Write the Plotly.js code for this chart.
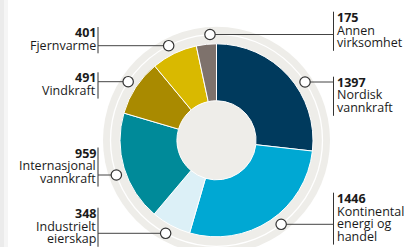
<!DOCTYPE html>
<html>
<head>
<meta charset="utf-8">
<script src="https://cdn.plot.ly/plotly-3.0.1.min.js"></script>
<style>html,body{margin:0;padding:0;background:#fff;}#chart{width:409px;height:247px;}</style>
</head>
<body>
<div id="chart"></div>
<script>
// ---- data ----
const categories = ["Nordisk vannkraft", "Kontinental energi og handel", "Industrielt eierskap", "Internasjonal vannkraft", "Vindkraft", "Fjernvarme", "Annen virksomhet"];
const values = [1397, 1446, 348, 959, 491, 401, 175];
const labelLines = [["Nordisk", "vannkraft"], ["Kontinental", "energi og", "handel"], ["Industrielt", "eierskap"], ["Internasjonal", "vannkraft"], ["Vindkraft"], ["Fjernvarme"], ["Annen", "virksomhet"]];
const colors = ["#003a5d", "#00a8d3", "#dcf0f7", "#008a99", "#a98a00", "#d9b900", "#7e726c"];

// ---- layout (pixel positions) ----
const W = 409, H = 247;
const cx = 216.5, cy = 140.3, R = 96.5;      // pie
const ringR = 113.5, markR = 106, holeFrac = 0.41;
const labelPos = [ // label side, first baseline y, leader-line y
  {side: 'R', b0: 86.7, ly: 82.0},
  {side: 'R', b0: 202.7, ly: 224.3},
  {side: 'L', b0: 217.7, ly: 233.3},
  {side: 'L', b0: 157.5, ly: 175.0},
  {side: 'L', b0: 82.3, ly: 81.7},
  {side: 'L', b0: 37.0, ly: 45.7},
  {side: 'R', b0: 21.7, ly: 34.5}
];
const lineGap = 12.8;
const leftBarX = 98, rightBarX = 333.5;
const X = p => p / W, Y = p => 1 - p / H;

const total = values.reduce((a, b) => a + b, 0);
const shapes = [];
const annotations = [];

// background strip on left edge
shapes.push({type: 'rect', xref: 'paper', yref: 'paper', x0: 0, x1: X(4), y0: 0, y1: 1, fillcolor: '#ebebeb', line: {width: 0}, layer: 'below'});
shapes.push({type: 'rect', xref: 'paper', yref: 'paper', x0: X(4), x1: X(8), y0: 0, y1: 1, fillcolor: '#f5f5f5', line: {width: 0}, layer: 'below'});
// grey ring disc
shapes.push({type: 'circle', xref: 'paper', yref: 'paper', x0: X(cx - ringR), x1: X(cx + ringR), y0: Y(cy + ringR), y1: Y(cy - ringR), fillcolor: '#eeede9', line: {width: 0}, layer: 'below'});
// thin white ring
shapes.push({type: 'circle', xref: 'paper', yref: 'paper', x0: X(cx - markR), x1: X(cx + markR), y0: Y(cy + markR), y1: Y(cy - markR), fillcolor: 'rgba(0,0,0,0)', line: {width: 1.3, color: '#ffffff'}, layer: 'below'});

let cum = 0;
values.forEach((v, i) => {
  const mid = (cum + v / 2) / total * 2 * Math.PI;
  cum += v;
  const markerRight = Math.sin(mid) > 0;
  const pos = labelPos[i];
  const right = pos.side === 'R';
  const dy = pos.ly - cy;
  const mx = cx + (markerRight ? 1 : -1) * Math.sqrt(markR * markR - dy * dy);
  const barX = right ? rightBarX : leftBarX;
  const lines = [String(v)].concat(labelLines[i]);
  const lastB = pos.b0 + lineGap * (lines.length - 1);
  // vertical bar
  shapes.push({type: 'line', xref: 'paper', yref: 'paper', x0: X(barX), x1: X(barX), y0: Y(pos.b0 - 10), y1: Y(lastB + 3.5), line: {color: '#333', width: 1}, layer: 'above'});
  // leader line
  shapes.push({type: 'line', xref: 'paper', yref: 'paper', x0: X(barX), x1: X(mx), y0: Y(pos.ly), y1: Y(pos.ly), line: {color: '#444', width: 1}, layer: 'above'});
  // marker
  const mr = 5.2;
  shapes.push({type: 'circle', xref: 'paper', yref: 'paper', x0: X(mx - mr), x1: X(mx + mr), y0: Y(pos.ly + mr), y1: Y(pos.ly - mr), fillcolor: '#ffffff', line: {color: '#333', width: 1.2}, layer: 'above'});
  lines.forEach((t, k) => {
    annotations.push({
      xref: 'paper', yref: 'paper',
      x: X(right ? barX + 2.5 : barX - 1.5), y: Y(pos.b0 + k * lineGap - 4.5),
      xanchor: right ? 'left' : 'right', yanchor: 'middle',
      text: k === 0 ? '<b>' + t + '</b>' : t,
      showarrow: false, borderpad: 0,
      font: {family: 'Open Sans', size: 12.5, color: '#1a1a1a'}
    });
  });
});

const trace = {
  type: 'pie',
  labels: categories,
  values: values,
  sort: false,
  direction: 'clockwise',
  rotation: 0,
  hole: holeFrac,
  textinfo: 'none',
  hoverinfo: 'label+value',
  marker: {colors: colors, line: {color: '#ffffff', width: 1}},
  domain: {x: [X(cx - R), X(cx + R)], y: [Y(cy + R), Y(cy - R)]},
  showlegend: false
};

Plotly.newPlot('chart', [trace], {
  width: W, height: H,
  margin: {l: 0, r: 0, t: 0, b: 0},
  paper_bgcolor: '#ffffff',
  showlegend: false,
  shapes: shapes,
  annotations: annotations
}, {displayModeBar: false, staticPlot: true});
</script>
</body>
</html>
